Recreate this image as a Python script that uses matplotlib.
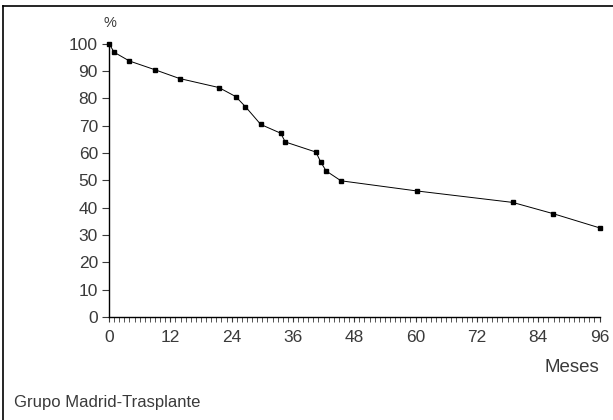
import matplotlib.pyplot as plt
from matplotlib.ticker import MultipleLocator
from matplotlib.lines import Line2D

# Supervivencia (%) frente a meses
meses = [0, 1, 4, 9, 13.8, 21.5, 24.8, 26.7, 29.7, 33.6, 34.5,
         40.5, 41.4, 42.5, 45.4, 60.2, 79.0, 86.9, 96.0]
supervivencia = [100, 96.8, 93.6, 90.4, 87.2, 83.9, 80.6, 76.9, 70.4, 67.2, 64.0,
                 60.3, 56.8, 53.4, 49.8, 46.1, 41.9, 37.8, 32.6]

ticks_x = [0, 12, 24, 36, 48, 60, 72, 84, 96]
ticks_y = list(range(0, 101, 10))

plt.rcParams['font.family'] = ['Liberation Sans', 'DejaVu Sans']
gris = '#3a3a3a'

fig = plt.figure(figsize=(6.13, 4.2), dpi=100)
ax = fig.add_axes([109 / 613, 1 - 317 / 420, (599.5 - 109) / 613, (317 - 43.5) / 420])

ax.plot(meses, supervivencia, color='black', lw=0.7, marker='s', ms=3.0,
        mfc='black', mec='black', clip_on=False)

ax.set_xlim(0, 96)
ax.set_ylim(0, 100)
ax.set_xticks(ticks_x)
ax.set_yticks(ticks_y)
ax.xaxis.set_minor_locator(MultipleLocator(1))
ax.tick_params(axis='y', direction='out', length=5, width=0.8, pad=3,
               labelsize=12.5, labelcolor=gris, color=gris)
ax.tick_params(axis='x', which='major', direction='out', length=3.5, width=0.8,
               pad=6, labelsize=12.5, labelcolor=gris, color=gris)
ax.tick_params(axis='x', which='minor', direction='out', length=3.5, width=0.6,
               color=gris)

for lado in ['top', 'right']:
    ax.spines[lado].set_visible(False)
for lado in ['left', 'bottom']:
    ax.spines[lado].set_linewidth(1.0)
    ax.spines[lado].set_color('black')

fig.text(110 / 613, 1 - 23 / 420, '%', fontsize=10.5, color=gris, ha='center', va='center')
fig.text(599 / 613, 1 - 367 / 420, 'Meses', fontsize=13.5, color=gris, ha='right', va='center')
fig.text(14 / 613, 1 - 403 / 420, 'Grupo Madrid-Trasplante', fontsize=12, color=gris,
         ha='left', va='center')

# marco de la figura (solo arriba e izquierda visibles)
fig.add_artist(Line2D([3 / 613, 3 / 613], [0, 1 - 6 / 420], transform=fig.transFigure,
                      color='black', lw=1.2))
fig.add_artist(Line2D([3 / 613, 1], [1 - 6 / 420, 1 - 6 / 420], transform=fig.transFigure,
                      color='black', lw=1.2))

fig.savefig('out.png', dpi=100)
